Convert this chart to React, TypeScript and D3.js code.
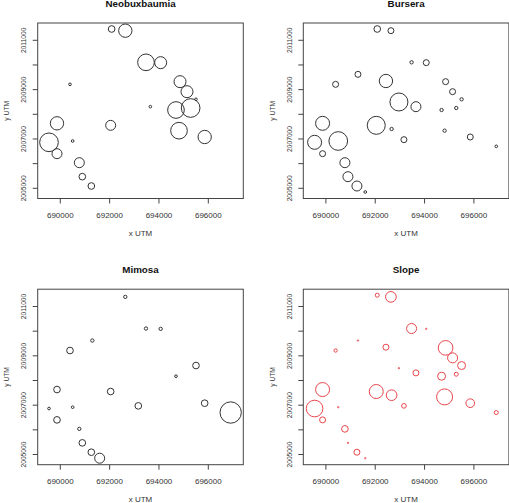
import React from "react";
import * as d3 from "d3";

// Site coordinates (UTM)
const siteX = [692082, 692636, 693474, 694069, 691299, 690393, 692434, 694853, 695136, 695501, 692961, 693650, 694690, 695285, 689866, 692042, 692663, 694812, 695853, 689542, 690501, 693163, 696907, 689866, 690771, 690893, 691258, 691596];
const siteY = [2011458, 2011390, 2010107, 2010093, 2009620, 2009215, 2009350, 2009323, 2008917, 2008607, 2008499, 2008309, 2008174, 2008255, 2007634, 2007553, 2007404, 2007336, 2007080, 2006864, 2006918, 2006972, 2006702, 2006404, 2006039, 2005472, 2005093, 2004850];

// Estimated symbol sizes per site
const neobuxbaumia = [10, 20, 25, 18, 0, 4, 0, 18, 18, 4, 0, 4, 25, 28, 20, 15, 0, 25, 20, 28, 4, 0, 0, 15, 15, 10, 10, 0];
const bursera = [10, 9, 5, 9, 9, 9, 20, 9, 9, 5, 27, 15, 5, 5, 21, 27, 5, 5, 9, 21, 28, 9, 4, 9, 15, 15, 15, 4];
const mimosa = [0, 5, 5, 5, 5, 10, 0, 0, 0, 10, 0, 0, 4, 0, 10, 10, 0, 0, 10, 4, 4, 10, 32, 10, 5, 10, 10, 15];
const slope = [6, 16, 15, 2, 2, 5, 9, 22, 15, 12, 2, 9, 12, 6, 21, 21, 16, 24, 13, 25, 2, 7, 6, 9, 10, 2, 9, 2];

const titles = ["Neobuxbaumia", "Bursera", "Mimosa", "Slope"];
const seriesList = [neobuxbaumia, bursera, mimosa, slope];
const colors = ["#333", "#333", "#333", "#e8464c"];

const xTicks = [690000, 692000, 694000, 696000];
const yTicks = d3.range(2005000, 2011001, 1000);
const yLabels = [2005000, 2007000, 2009000, 2011000];

const W = 509;
const H = 503;
const FONT = "'Liberation Sans', Arial, Helvetica, sans-serif";
const SQ = 0.84;

const origins = [
  [0, 0],
  [265.6, 0],
  [0, 266.2],
  [265.6, 266.2],
];

const box = { left: 37.7, right: 243.3, top: 23, bottom: 198.5 };
const x = d3.scaleLinear().domain([689084, 697419]).range([box.left, box.right]);
const y = d3.scaleLinear().domain([2004587, 2011701]).range([box.bottom, box.top]);
const r = d3.scaleLinear().domain([0, 30]).range([0, 10]);

function Panel({ idx }: { idx: number }) {
  const [ox, oy] = origins[idx];
  const vals = seriesList[idx];
  const cx = (box.left + box.right) / 2;
  const cy = (box.top + box.bottom) / 2;
  return (
    <g transform={`translate(${ox},${oy})`}>
      <text
        transform={`translate(${cx},7) scale(1,${SQ})`}
        textAnchor="middle"
        fontSize={9.8}
        fontWeight="bold"
        fill="#111"
        fontFamily={FONT}
      >
        {titles[idx]}
      </text>
      {vals.map((v, i) =>
        v > 0 ? (
          <circle
            key={i}
            cx={x(siteX[i])}
            cy={y(siteY[i])}
            r={r(v)}
            fill="none"
            stroke={colors[idx]}
            strokeWidth={1}
          />
        ) : null
      )}
      <rect
        x={box.left}
        y={box.top}
        width={box.right - box.left}
        height={box.bottom - box.top}
        fill="none"
        stroke="#444"
        strokeWidth={1}
      />
      {xTicks.map((t) => (
        <g key={t}>
          <line x1={x(t)} x2={x(t)} y1={box.bottom} y2={box.bottom + 5} stroke="#444" />
          <text
            transform={`translate(${x(t)},217.5) scale(1,${SQ})`}
            textAnchor="middle"
            fontSize={8}
            fill="#333"
            fontFamily={FONT}
          >
            {t}
          </text>
        </g>
      ))}
      {yTicks.map((t) => (
        <line key={t} x1={box.left - 5} x2={box.left} y1={y(t)} y2={y(t)} stroke="#444" />
      ))}
      {yLabels.map((t) => (
        <text
          key={t}
          transform={`translate(26,${y(t)}) rotate(-90) scale(${SQ},1)`}
          textAnchor="middle"
          fontSize={8}
          fill="#333"
          fontFamily={FONT}
        >
          {t}
        </text>
      ))}
      <text
        transform={`translate(${cx},236) scale(1,${SQ})`}
        textAnchor="middle"
        fontSize={8}
        fill="#333"
        fontFamily={FONT}
      >
        x UTM
      </text>
      <text
        transform={`translate(9,${cy}) rotate(-90) scale(${SQ},1)`}
        textAnchor="middle"
        fontSize={8}
        fill="#333"
        fontFamily={FONT}
      >
        y UTM
      </text>
    </g>
  );
}

export default function App() {
  return (
    <svg
      width={W}
      height={H}
      style={{ position: "absolute", left: 0, top: 0, background: "#fff" }}
    >
      <rect width={W} height={H} fill="#fff" />
      {[0, 1, 2, 3].map((i) => (
        <Panel key={i} idx={i} />
      ))}
    </svg>
  );
}
